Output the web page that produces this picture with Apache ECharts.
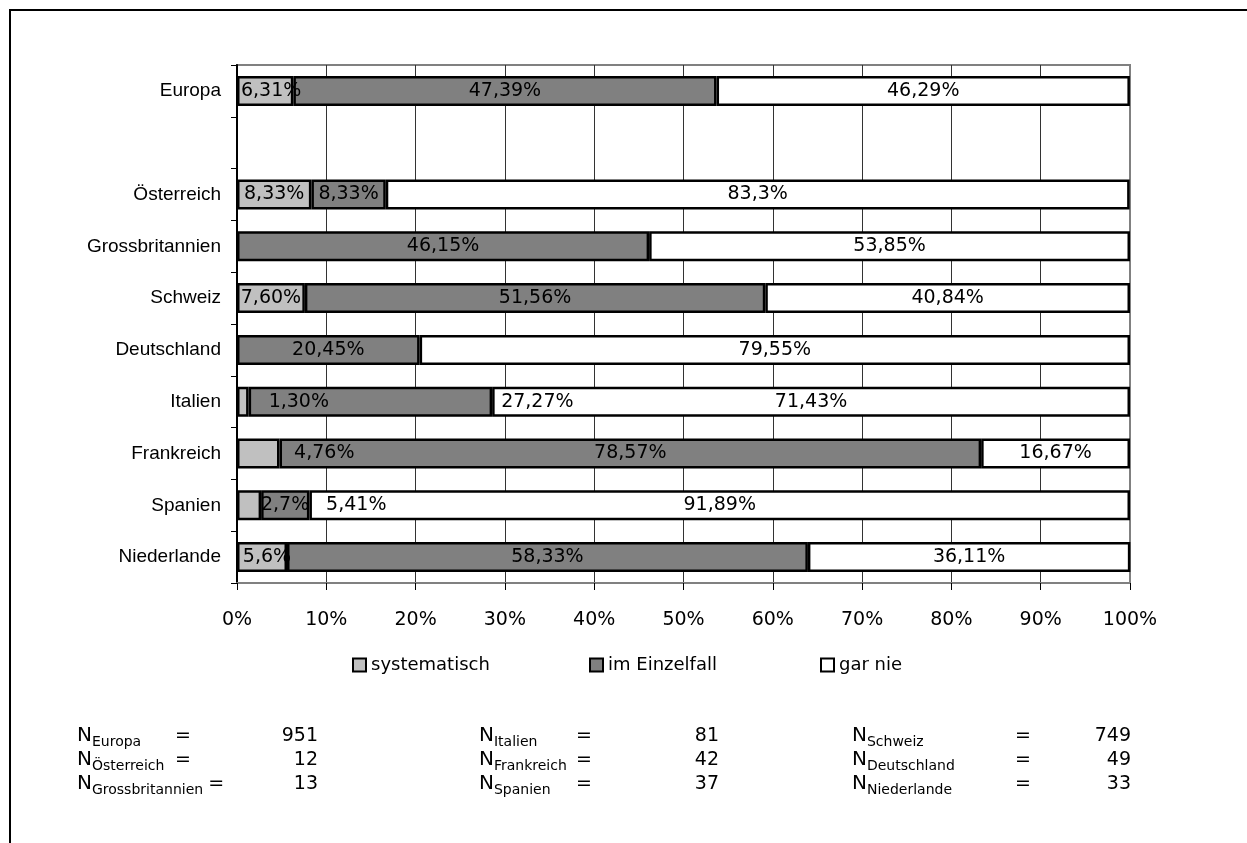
<!DOCTYPE html>
<html>
<head>
<meta charset="utf-8">
<script src="https://cdn.jsdelivr.net/npm/echarts@6/dist/echarts.min.js"></script>
<style>
  html, body { margin: 0; padding: 0; background: #fff; }
  #chart { width: 1247px; height: 843px; }
</style>
</head>
<body>
<div id="chart"></div>
<script>
// Kategorien von oben nach unten (leere Zeile trennt Europa von den Ländern)
const categories = ['Europa', '', 'Österreich', 'Grossbritannien', 'Schweiz', 'Deutschland', 'Italien', 'Frankreich', 'Spanien', 'Niederlande'];

// Anteile in Prozent, so wie sie beschriftet werden
const systematisch = ['6,31', null, '8,33', null, '7,60', null, '1,30', '4,76', '2,7', '5,6'];
const imEinzelfall = ['47,39', null, '8,33', '46,15', '51,56', '20,45', '27,27', '78,57', '5,41', '58,33'];
const garNie = ['46,29', null, '83,3', '53,85', '40,84', '79,55', '71,43', '16,67', '91,89', '36,11'];

const seriesNames = ['systematisch', 'im Einzelfall', 'gar nie'];
const xTicks = [0, 10, 20, 30, 40, 50, 60, 70, 80, 90, 100];

// Stichprobengrößen
const nLabels = ['Europa', 'Österreich', 'Grossbritannien', 'Italien', 'Frankreich', 'Spanien', 'Schweiz', 'Deutschland', 'Niederlande'];
const nValues = [951, 12, 13, 81, 42, 37, 749, 49, 33];

const FONT = "'DejaVu Sans', Verdana, sans-serif";
const CAT_FONT = "'Liberation Sans', Arial, sans-serif";
const colors = ['#C0C0C0', '#808080', '#FFFFFF'];

// horizontale Verschiebung einzelner Beschriftungen (Pixel), nach Reihe und Zeile
const labelShift = [
  { 0: 6, 6: 56, 7: 66, 8: 36, 9: 5 },
  { 6: 167, 8: 71 },
  {}
];

const toNum = s => (s == null ? null : parseFloat(s.replace(',', '.')));

function buildSeries(texts, idx) {
  return {
    name: seriesNames[idx],
    type: 'bar',
    stack: 'total',
    barWidth: 30,
    itemStyle: { color: colors[idx], borderColor: '#000', borderWidth: 2.5 },
    label: {
      show: true,
      position: 'inside',
      color: '#000',
      fontFamily: FONT,
      fontSize: 19,
      formatter: p => texts[p.dataIndex] + '%'
    },
    data: texts.map((t, i) => {
      const v = toNum(t);
      if (v == null) return '-';
      const item = { value: v };
      if (labelShift[idx][i] != null) item.label = { offset: [labelShift[idx][i], 0] };
      return item;
    })
  };
}

const chart = echarts.init(document.getElementById('chart'), null, { renderer: 'canvas' });

// Stichproben-Tabelle unter dem Diagramm
const measureCtx = document.createElement('canvas').getContext('2d');
function textWidth(t, size) {
  measureCtx.font = size + 'px ' + FONT;
  return measureCtx.measureText(t).width;
}
const colX = [77, 479, 852];
const colEq = [175, 576, 1015];
const colValRight = [318, 719, 1131];
const rowY = [736, 760, 784];
const tableGraphics = [];
nLabels.forEach((name, k) => {
  const c = Math.floor(k / 3), r = k % 3;
  const x = colX[c], y = rowY[r];
  const wN = textWidth('N', 20);
  const wS = textWidth(name, 14);
  tableGraphics.push({ type: 'text', x: x, y: y, style: { text: 'N', font: '20px ' + FONT, fill: '#000', verticalAlign: 'middle' } });
  tableGraphics.push({ type: 'text', x: x + wN, y: y + 6, style: { text: name, font: '14px ' + FONT, fill: '#000', verticalAlign: 'middle' } });
  const eqX = Math.max(colEq[c], x + wN + wS + 5);
  tableGraphics.push({ type: 'text', x: eqX, y: y, style: { text: '=', font: '19px ' + FONT, fill: '#000', verticalAlign: 'middle' } });
  tableGraphics.push({ type: 'text', x: colValRight[c], y: y, style: { text: String(nValues[k]), font: '19px ' + FONT, fill: '#000', verticalAlign: 'middle', align: 'right' } });
});

const legendBase = {
  orient: 'horizontal',
  top: 651,
  itemWidth: 13,
  itemHeight: 13,
  icon: 'rect',
  itemStyle: { borderColor: '#000', borderWidth: 2 },
  textStyle: { fontFamily: FONT, fontSize: 18, color: '#000' },
  selectedMode: false
};

chart.setOption({
  animation: false,
  backgroundColor: '#fff',
  textStyle: { fontFamily: FONT },
  grid: {
    left: 237, right: 117, top: 65, bottom: 260,
    show: true, borderColor: '#808080', borderWidth: 2, backgroundColor: 'transparent'
  },
  legend: [
    Object.assign({}, legendBase, { left: 347, data: [seriesNames[0]] }),
    Object.assign({}, legendBase, { left: 584, data: [seriesNames[1]] }),
    Object.assign({}, legendBase, { left: 815, data: [seriesNames[2]] })
  ],
  xAxis: {
    type: 'value',
    min: xTicks[0],
    max: xTicks[xTicks.length - 1],
    interval: 10,
    axisLine: { show: true, lineStyle: { color: '#808080', width: 2 } },
    axisTick: { show: true, length: 7, lineStyle: { color: '#000', width: 1 } },
    axisLabel: { margin: 28, fontSize: 19, color: '#000', fontFamily: FONT, formatter: v => v + '%' },
    splitLine: { show: true, showMinLine: false, showMaxLine: false, lineStyle: { color: '#333', width: 1 } }
  },
  yAxis: {
    type: 'category',
    inverse: true,
    data: categories,
    axisLine: { show: true, lineStyle: { color: '#000', width: 2 } },
    axisTick: { show: true, length: 6, lineStyle: { color: '#000', width: 1 } },
    axisLabel: { margin: 16, fontSize: 19, color: '#000', fontFamily: CAT_FONT },
    splitLine: { show: false }
  },
  series: [
    buildSeries(systematisch, 0),
    buildSeries(imEinzelfall, 1),
    buildSeries(garNie, 2)
  ],
  graphic: [
    { type: 'rect', shape: { x: 10, y: 10, width: 1400, height: 1000 }, style: { fill: 'none', stroke: '#000', lineWidth: 2 }, silent: true }
  ].concat(tableGraphics)
});
</script>
</body>
</html>
